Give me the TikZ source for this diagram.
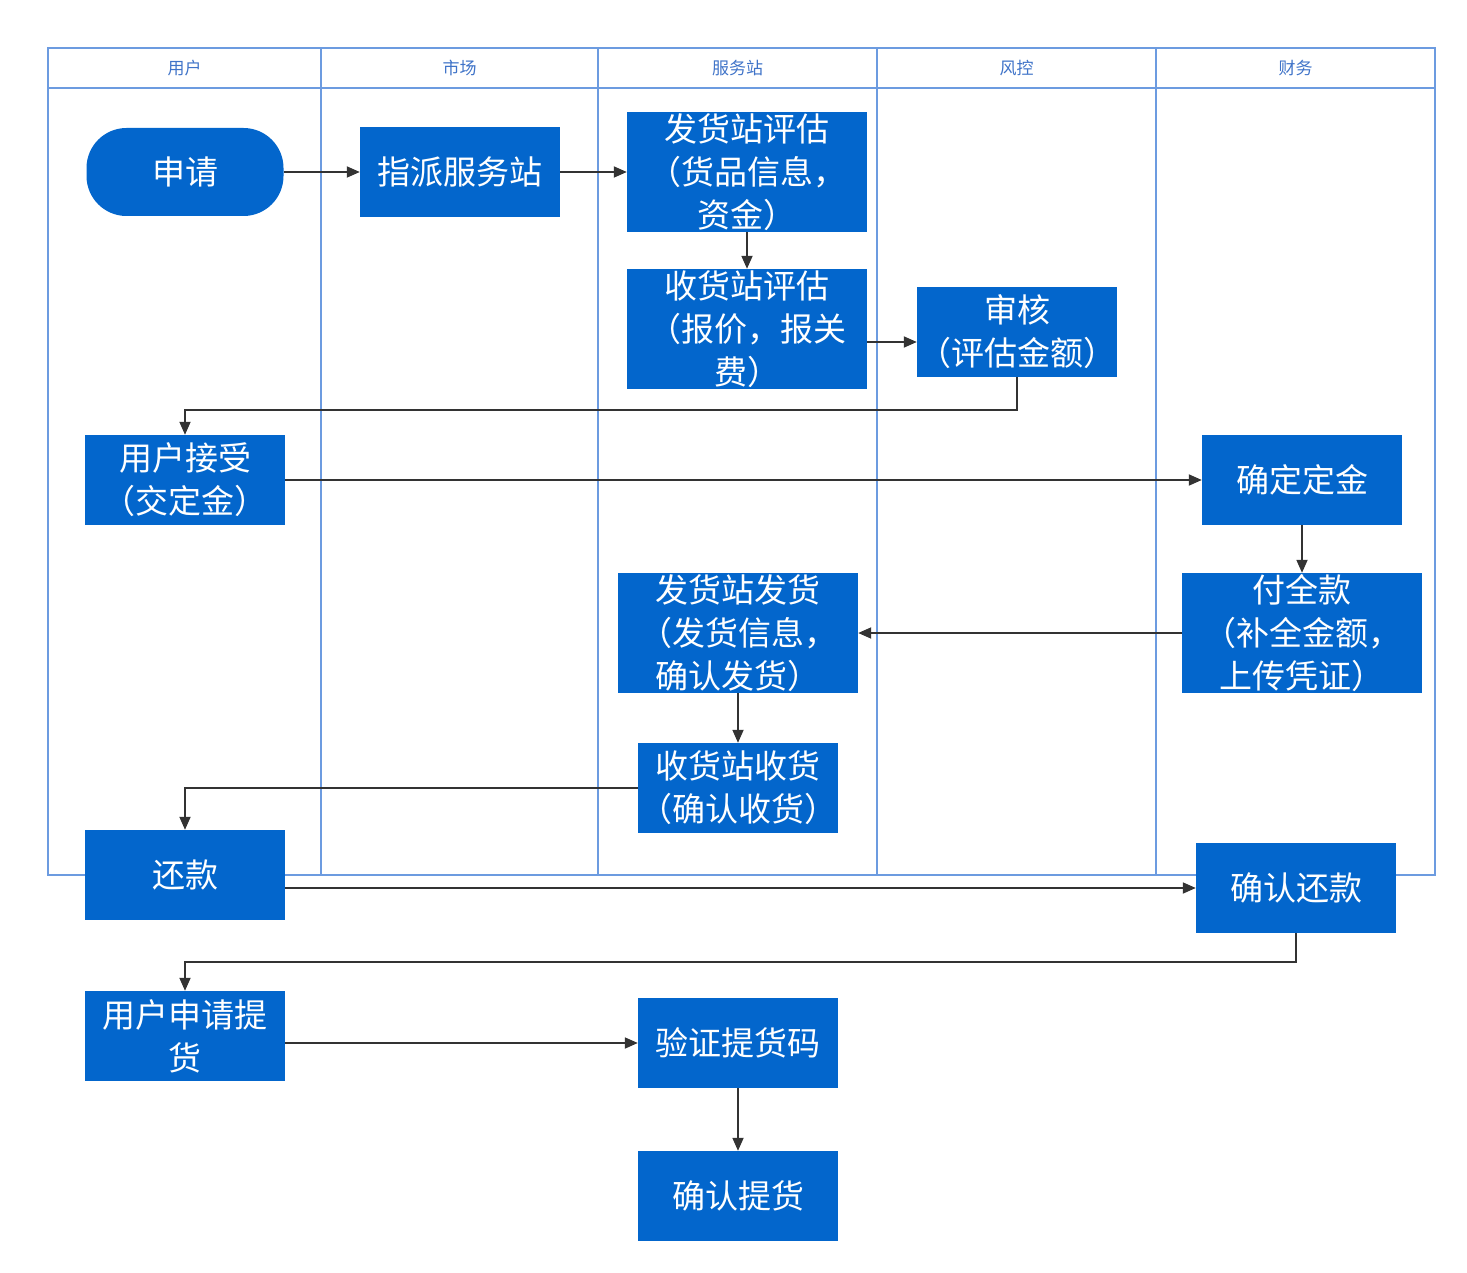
\documentclass[tikz,border=0pt]{standalone}
\usepackage{fontspec}
\newfontfamily\cjk{Noto Sans CJK SC}
\usetikzlibrary{arrows.meta}

\definecolor{boxblue}{HTML}{0366CC}
\definecolor{laneline}{HTML}{6C9BE0}
\definecolor{lanetext}{HTML}{3F73C8}
\definecolor{flowline}{HTML}{333333}

\tikzset{
  lane/.style={draw=laneline, line width=1.2pt},
  lanelabel/.style={text=lanetext, font=\cjk\fontsize{17}{19}\selectfont, inner sep=0pt},
  task/.style={fill=boxblue, text=white, inner sep=0pt, align=center,
    minimum width=200pt, minimum height=90pt,
    font=\cjk\fontsize{33}{43}\selectfont},
  bigtask/.style={task, minimum width=240pt, minimum height=120pt},
  startbox/.style={task, minimum width=197pt, minimum height=88pt, rounded corners=40pt},
  flow/.style={draw=flowline, line width=1.8pt, -{Triangle[length=13pt,width=11pt]}},
}

\begin{document}
\begin{tikzpicture}[x=1pt, y=-1pt]
  \useasboundingbox (0,0) rectangle (1467,1273);

  % swimlane frame
  \draw[lane] (48,48) rectangle (1435,875);
  \draw[lane] (48,88) -- (1435,88);
  \foreach \lx in {321,598,877,1156} \draw[lane] (\lx,48) -- (\lx,875);

  \node[lanelabel] (laneUser)    at (184.5,68)  {用户};
  \node[lanelabel] (laneMarket)  at (459.5,68)  {市场};
  \node[lanelabel] (laneStation) at (737.5,68)  {服务站};
  \node[lanelabel] (laneRisk)    at (1016.5,68) {风控};
  \node[lanelabel] (laneFinance) at (1295.5,68) {财务};

  % process steps
  \node[startbox] (apply)    at (185,172)  {申请};
  \node[task]     (assign)   at (460,172)  {指派服务站};
  \node[bigtask]  (sendEval) at (747,172)  {发货站评估\\（货品信息，\\资金）};
  \node[bigtask]  (recvEval) at (747,329)  {收货站评估\\（报价，报关\\费）};
  \node[task]     (audit)    at (1017,332) {审核\\（评估金额）};
  \node[task]     (accept)   at (185,480)  {用户接受\\（交定金）};
  \node[task]     (deposit)  at (1302,480) {确定定金};
  \node[bigtask]  (fullpay)  at (1302,633) {付全款\\（补全金额，\\上传凭证）};
  \node[bigtask]  (ship)     at (738,633)  {发货站发货\\（发货信息，\\确认发货）};
  \node[task]     (receive)  at (738,788)  {收货站收货\\（确认收货）};
  \node[task]     (repay)    at (185,875)  {还款};
  \node[task]     (confirmRepay) at (1296,888) {确认还款};
  \node[task]     (pickup)   at (185,1036) {用户申请提\\货};
  \node[task]     (verify)   at (738,1043) {验证提货码};
  \node[task]     (confirmPick) at (738,1196) {确认提货};

  % routing points
  \coordinate (auditIn) at ([yshift=-10pt]audit.west);
  \coordinate (bendA) at (600,410);
  \coordinate (bendB) at (700,962);

  % connectors
  \draw[flow] (apply.east) -- (assign.west);
  \draw[flow] (assign.east) -- (sendEval.west);
  \draw[flow] (sendEval.south) -- (recvEval.north);
  \draw[flow] (recvEval.east |- auditIn) -- (auditIn);
  \draw[flow] (audit.south) |- (bendA) -| (accept.north);
  \draw[flow] (accept.east) -- (deposit.west);
  \draw[flow] (deposit.south) -- (fullpay.north);
  \draw[flow] (fullpay.west) -- (ship.east);
  \draw[flow] (ship.south) -- (receive.north);
  \draw[flow] (receive.west) -| (repay.north);
  \draw[flow] (repay.east |- confirmRepay.west) -- (confirmRepay.west);
  \draw[flow] (confirmRepay.south) |- (bendB) -| (pickup.north);
  \draw[flow] (pickup.east |- verify.west) -- (verify.west);
  \draw[flow] (verify.south) -- (confirmPick.north);
\end{tikzpicture}
\end{document}
